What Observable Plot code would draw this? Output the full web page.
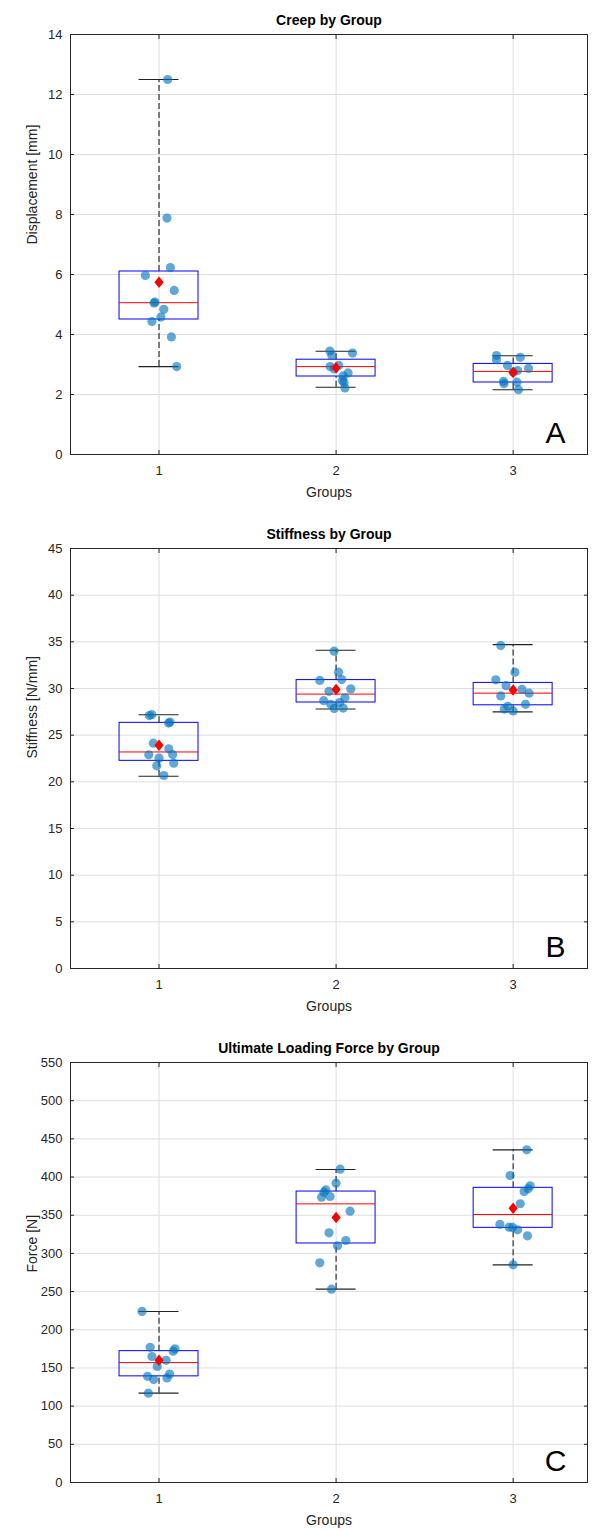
<!DOCTYPE html>
<html><head><meta charset="utf-8">
<script src="https://cdn.jsdelivr.net/npm/d3@7"></script>
<script src="https://cdn.jsdelivr.net/npm/@observablehq/plot@0.6"></script>
<style>
body{margin:0;background:#fff;font-family:"Liberation Sans",Arial,sans-serif;}
#chart svg{display:block}
</style></head><body><div id="chart"></div>
<script>
const groups = [1, 2, 3];
const groupLabels = ["1", "2", "3"];

// ---- Panel A: Creep ----
const creepG1 = [12.5, 7.88, 6.23, 5.97, 5.47, 5.08, 5.05, 4.84, 4.58, 4.43, 3.92, 2.93];
const creepG1x = [1.049, 1.045, 1.064, 0.923, 1.086, 0.977, 0.972, 1.027, 1.011, 0.96, 1.07, 1.1];
const creepG2 = [3.45, 3.38, 3.3, 2.97, 2.93, 2.85, 2.72, 2.62, 2.47, 2.40, 2.22];
const creepG2x = [1.965, 2.093, 1.976, 2.015, 1.966, 1.99, 2.068, 2.04, 2.036, 2.045, 2.05];
const creepG3 = [3.3, 3.16, 3.24, 2.97, 2.8, 2.87, 2.75, 2.44, 2.36, 2.41, 2.16];
const creepG3x = [2.906, 2.906, 3.04, 2.968, 3.025, 3.087, 3.0, 2.946, 2.948, 3.021, 3.03];
const creepQ1 = [4.5, 2.6, 2.4];
const creepMedian = [5.06, 2.93, 2.77];
const creepQ3 = [6.1, 3.16, 3.02];
const creepLo = [2.93, 2.24, 2.16];
const creepHi = [12.5, 3.44, 3.29];
const creepMean = [5.74, 2.89, 2.73];
const creepTicks = [0, 2, 4, 6, 8, 10, 12, 14];

// ---- Panel B: Stiffness ----
const stiffG1 = [27.1, 27.2, 26.4, 26.3, 24.14, 23.54, 22.9, 22.54, 22.93, 22.0, 21.72, 20.68];
const stiffG1x = [0.945, 0.959, 1.062, 1.054, 0.968, 1.055, 0.942, 1.0, 1.077, 1.083, 0.987, 1.027];
const stiffG2 = [34.0, 31.75, 30.96, 30.86, 29.96, 29.7, 29.0, 28.7, 28.5, 28.3, 27.9, 27.85];
const stiffG2x = [1.989, 2.014, 2.032, 1.908, 2.083, 1.96, 2.05, 1.93, 2.02, 1.97, 2.04, 1.99];
const stiffG3 = [34.6, 31.75, 30.93, 30.3, 29.9, 29.5, 29.2, 28.3, 28.1, 27.8, 27.6];
const stiffG3x = [2.93, 3.01, 2.902, 2.96, 3.05, 3.09, 2.93, 3.07, 2.97, 2.95, 3.0];
const stiffQ1 = [22.25, 28.5, 28.2];
const stiffMedian = [23.2, 29.4, 29.5];
const stiffQ3 = [26.32, 30.9, 30.6];
const stiffLo = [20.6, 27.8, 27.5];
const stiffHi = [27.18, 34.1, 34.7];
const stiffMean = [23.93, 29.9, 29.85];
const stiffTicks = [0, 5, 10, 15, 20, 25, 30, 35, 40, 45];

// ---- Panel C: Ultimate loading force ----
const forceG1 = [224, 177, 175, 172, 165, 160, 152, 142, 139, 137, 135, 117];
const forceG1x = [0.904, 0.95, 1.09, 1.08, 0.96, 1.04, 0.99, 1.06, 0.935, 1.045, 0.97, 0.94];
const forceG2 = [410.3, 392, 383.3, 380.2, 373.6, 374.5, 355.3, 327, 316.9, 310, 287.7, 253.2];
const forceG2x = [2.023, 2.0, 1.942, 1.932, 1.918, 1.966, 2.079, 1.96, 2.055, 2.008, 1.908, 1.974];
const forceG3 = [435.6, 402, 388.5, 384.6, 381, 365, 337.9, 334.3, 334, 330.9, 323, 285];
const forceG3x = [3.077, 2.983, 3.096, 3.085, 3.062, 3.04, 2.925, 2.977, 2.997, 3.025, 3.081, 3.0];
const forceQ1 = [139, 313, 333.5];
const forceMedian = [157, 364.9, 351];
const forceQ3 = [172, 381, 385.9];
const forceLo = [117, 253.2, 285];
const forceHi = [224, 409.9, 435.6];
const forceMean = [160, 347, 359.2];
const forceTicks = [0, 50, 100, 150, 200, 250, 300, 350, 400, 450, 500, 550];

const boxHalf = 0.223, capHalf = 0.113;
const FONT = '"Liberation Sans", Arial, Helvetica, sans-serif';
const AX = "#262626", GRID = "#dedede";

const meanDiamond = {
  draw(ctx, size) {
    const r = Math.sqrt(size / Math.PI);
    const h = r * 1.15, w = r * 0.92;
    ctx.moveTo(0, -h); ctx.lineTo(w, 0); ctx.lineTo(0, h); ctx.lineTo(-w, 0); ctx.closePath();
  }
};

function panel(o) {
  const idx = [0, 1, 2];
  const pts = [];
  o.vals.forEach((vals, g) => vals.forEach((v, j) => pts.push({x: o.xs[g][j], y: v})));
  return Plot.plot({
    width: 597, height: 514,
    marginTop: 34, marginBottom: 60, marginLeft: 70, marginRight: 10,
    x: {domain: [0.5, 3.42]},
    y: {domain: [o.ticks[0], o.ticks[o.ticks.length - 1]]},
    style: {fontFamily: FONT, fontSize: "13px", color: AX, background: "#fff", overflow: "visible"},
    marks: [
      Plot.ruleX(groups, {stroke: GRID, strokeWidth: 1}),
      Plot.ruleY(o.ticks, {stroke: GRID, strokeWidth: 1}),
      Plot.frame({stroke: AX, strokeWidth: 1}),
      Plot.axisX({ticks: groups, tickFormat: (d, i) => groupLabels[i], tickSize: -4, tickPadding: 15, label: null, stroke: AX, fontSize: 13}),
      Plot.axisX({ticks: groups, anchor: "top", tickFormat: () => "", tickSize: -4, label: null, stroke: AX}),
      Plot.axisY({ticks: o.ticks, tickSize: -4, tickPadding: 12, label: null, stroke: AX, fontSize: 13}),
      Plot.axisY({ticks: o.ticks, anchor: "right", tickFormat: () => "", tickSize: -4, label: null, stroke: AX}),
      // whiskers
      Plot.ruleX(idx, {x: i => groups[i], y1: i => o.q3[i], y2: i => o.hi[i], stroke: "#222", strokeWidth: 1.1, strokeDasharray: "6,3"}),
      Plot.ruleX(idx, {x: i => groups[i], y1: i => o.lo[i], y2: i => o.q1[i], stroke: "#222", strokeWidth: 1.1, strokeDasharray: "6,3"}),
      Plot.ruleY(idx, {y: i => o.hi[i], x1: i => groups[i] - capHalf, x2: i => groups[i] + capHalf, stroke: "#222", strokeWidth: 1.1}),
      Plot.ruleY(idx, {y: i => o.lo[i], x1: i => groups[i] - capHalf, x2: i => groups[i] + capHalf, stroke: "#222", strokeWidth: 1.1}),
      // box
      Plot.rect(idx, {x1: i => groups[i] - boxHalf, x2: i => groups[i] + boxHalf, y1: i => o.q1[i], y2: i => o.q3[i], fill: "none", stroke: "#0000ff", strokeWidth: 1}),
      Plot.ruleY(idx, {y: i => o.med[i], x1: i => groups[i] - boxHalf, x2: i => groups[i] + boxHalf, stroke: "#ff0000", strokeWidth: 1}),
      // points
      Plot.dot(pts, {x: "x", y: "y", r: 4.6, fill: "#0072BD", fillOpacity: 0.62, stroke: "none"}),
      // mean
      Plot.dot(idx, {x: i => groups[i], y: i => o.mean[i], r: 5, symbol: meanDiamond, fill: "#ff0000", stroke: "none"}),
      // texts
      Plot.text([o.title], {frameAnchor: "top", dy: -14, text: d => d, fontWeight: "bold", fontSize: 14, fill: "#000", lineAnchor: "middle"}),
      Plot.text([o.ylabel], {frameAnchor: "left", dx: -38, rotate: -90, text: d => d, fontSize: 14, fill: AX, lineAnchor: "middle"}),
      Plot.text(["Groups"], {frameAnchor: "bottom", dy: 38, text: d => d, fontSize: 14, fill: AX, lineAnchor: "middle"}),
      Plot.text([o.letter], {frameAnchor: "bottom-right", dx: -32, dy: -21, text: d => d, fontSize: 30, fill: "#000", textAnchor: "middle", lineAnchor: "middle"})
    ]
  });
}

const chart = document.getElementById("chart");
chart.append(panel({
  title: "Creep by Group", ylabel: "Displacement [mm]", letter: "A", ticks: creepTicks,
  vals: [creepG1, creepG2, creepG3], xs: [creepG1x, creepG2x, creepG3x],
  q1: creepQ1, med: creepMedian, q3: creepQ3, lo: creepLo, hi: creepHi, mean: creepMean
}));
chart.append(panel({
  title: "Stiffness by Group", ylabel: "Stiffness [N/mm]", letter: "B", ticks: stiffTicks,
  vals: [stiffG1, stiffG2, stiffG3], xs: [stiffG1x, stiffG2x, stiffG3x],
  q1: stiffQ1, med: stiffMedian, q3: stiffQ3, lo: stiffLo, hi: stiffHi, mean: stiffMean
}));
chart.append(panel({
  title: "Ultimate Loading Force by Group", ylabel: "Force [N]", letter: "C", ticks: forceTicks,
  vals: [forceG1, forceG2, forceG3], xs: [forceG1x, forceG2x, forceG3x],
  q1: forceQ1, med: forceMedian, q3: forceQ3, lo: forceLo, hi: forceHi, mean: forceMean
}));
</script></body></html>
